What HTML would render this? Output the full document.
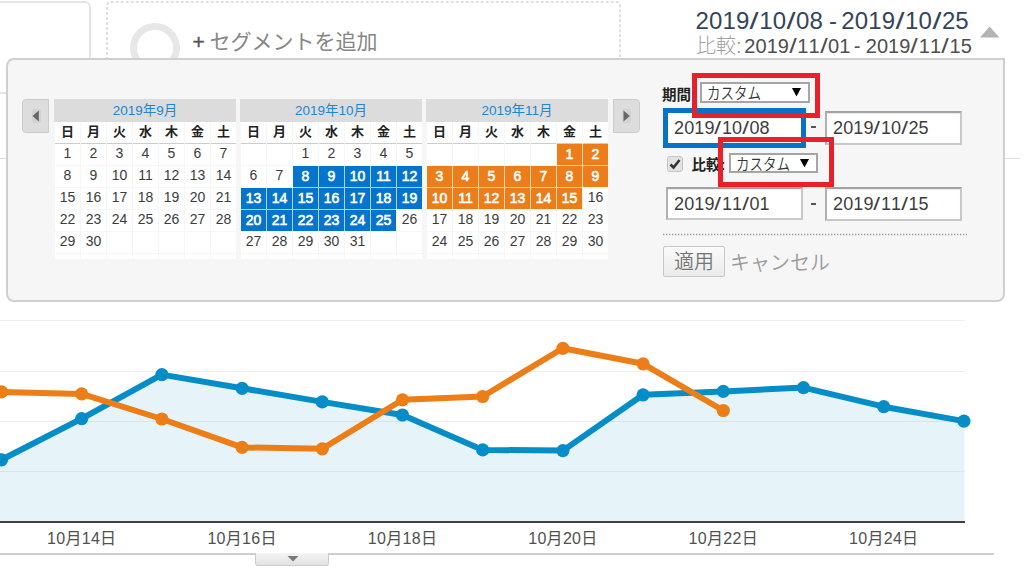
<!DOCTYPE html>
<html lang="ja"><head><meta charset="utf-8"><title>GA</title>
<style>
*{margin:0;padding:0;box-sizing:border-box}
html,body{width:1024px;height:567px;overflow:hidden;background:#fff}
body{position:relative;font-family:'Liberation Sans', 'Noto Sans CJK JP', sans-serif;color:#333}
.abs{position:absolute;white-space:nowrap}
.g{display:inline-block;text-align:center}
.cal{position:absolute;top:99px;width:182px;height:160px}
.mh{position:absolute;left:0;top:0;width:182px;height:23px;background:#dcdcdc;color:#2186d4;font-size:13.5px;line-height:23px;text-align:center}
.c{position:absolute;width:25px;text-align:center;font-size:14px;color:#3c3c3c;background:#fff}
.dn{font-family:'Noto Sans CJK JP',sans-serif;font-weight:700;font-size:13px;color:#222}
.b{background:#0574cc;color:#fff;font-weight:400;-webkit-text-stroke:0.6px #fff;padding-top:1px}
.o{background:#ec7d1b;color:#fff;font-weight:400;-webkit-text-stroke:0.6px #fff;padding-top:1px}
.inp{position:absolute;background:#fff;border:2px solid #c8c8c8;border-top-color:#a2a2a2;border-left-color:#b0b0b0;box-shadow:inset 0 1px 1px rgba(0,0,0,0.08)}
.sel{position:absolute;background:#fff;border:2px solid #a5a5a5}
.red{position:absolute;border:5px solid #e8202a}
.jp{font-family:'Noto Sans CJK JP', sans-serif}
</style></head><body>
<div class="abs" style="left:-20px;top:1px;width:111px;height:93px;border:2px solid #e4e4e4;border-radius:6px"></div><svg class="abs" style="left:0;top:0" width="640" height="70"><path d="M107,70 V6 Q107,2 111,2 H616 Q620,2 620,6 V70" fill="none" stroke="#e0e0e0" stroke-width="2" stroke-dasharray="3 2"/></svg><div class="abs" style="left:130px;top:22.5px;width:50px;height:50px;border:7px solid #e7e7e7;border-radius:50%"></div><div class="abs" style="left:192.5px;top:29px;font-size:21px;line-height:26px;color:#555;font-weight:400;-webkit-text-stroke:0.4px #555">+</div><div class="abs jp" style="left:209.5px;top:26px;font-size:21px;line-height:28px;color:#868686">セグメントを追加</div><div class="abs" style="left:695.5px;top:5.5px;font-size:24px;line-height:30px;color:#34455a"><span class="g" style="width:13.48px">2</span><span class="g" style="width:13.48px">0</span><span class="g" style="width:13.48px">1</span><span class="g" style="width:13.48px">9</span><span class="g" style="width:9.86px;transform:scaleX(1.35)">/</span><span class="g" style="width:13.48px">1</span><span class="g" style="width:13.48px">0</span><span class="g" style="width:9.86px;transform:scaleX(1.35)">/</span><span class="g" style="width:13.48px">0</span><span class="g" style="width:13.48px">8</span><span class="g" style="width:5.94px;white-space:pre"> </span><span class="g" style="width:6.48px">-</span><span class="g" style="width:5.94px;white-space:pre"> </span><span class="g" style="width:13.48px">2</span><span class="g" style="width:13.48px">0</span><span class="g" style="width:13.48px">1</span><span class="g" style="width:13.48px">9</span><span class="g" style="width:9.86px;transform:scaleX(1.35)">/</span><span class="g" style="width:13.48px">1</span><span class="g" style="width:13.48px">0</span><span class="g" style="width:9.86px;transform:scaleX(1.35)">/</span><span class="g" style="width:13.48px">2</span><span class="g" style="width:13.48px">5</span></div><div class="abs" style="left:696px;top:33px;font-size:20px;line-height:24px;color:#4e4e4e"><span style="color:#a0a0a0"><span class="jp" style="font-weight:300">比較</span><span class="g" style="width:4.72px">:</span></span><span style="margin-left:-1.5px"><span class="g" style="width:4.95px;white-space:pre"> </span><span class="g" style="width:11.23px">2</span><span class="g" style="width:11.23px">0</span><span class="g" style="width:11.23px">1</span><span class="g" style="width:11.23px">9</span><span class="g" style="width:8.22px;transform:scaleX(1.35)">/</span><span class="g" style="width:11.23px">1</span><span class="g" style="width:11.23px">1</span><span class="g" style="width:8.22px;transform:scaleX(1.35)">/</span><span class="g" style="width:11.23px">0</span><span class="g" style="width:11.23px">1</span><span class="g" style="width:4.95px;white-space:pre"> </span><span class="g" style="width:5.4px;margin-left:-1.6px;margin-right:1.6px">-</span><span class="g" style="width:4.95px;white-space:pre"> </span><span class="g" style="width:11.23px">2</span><span class="g" style="width:11.23px">0</span><span class="g" style="width:11.23px">1</span><span class="g" style="width:11.23px">9</span><span class="g" style="width:8.22px;transform:scaleX(1.35)">/</span><span class="g" style="width:11.23px">1</span><span class="g" style="width:11.23px">1</span><span class="g" style="width:8.22px;transform:scaleX(1.35)">/</span><span class="g" style="width:11.23px">1</span><span class="g" style="width:11.23px">5</span></span></div><svg class="abs" style="left:975px;top:20px" width="30" height="20"><polygon points="5,17.5 14.6,6.5 24.4,17.5" fill="#b4b4b4"/></svg><div class="abs" style="left:0;top:158px;width:1020px;height:1px;background:#dedede"></div><div class="abs" style="left:6px;top:58px;width:999px;height:244px;background:#f6f6f6;border:2px solid #cfcfcf;border-radius:8px 0 8px 8px"></div><div class="abs" style="left:22px;top:99px;width:27px;height:34px;background:#dddddd;border:1px solid #cbcbcb;border-radius:4px 0 0 4px"></div><div class="abs" style="left:31.5px;top:108.5px;width:9px;height:14px;background:#d2d2d2;border-radius:3px"></div><svg class="abs" style="left:0;top:0;overflow:visible" width="1" height="1"><polygon points="38.8,110.5 32.5,116 38.8,121.5" fill="#666"/></svg><div class="abs" style="left:613px;top:99px;width:27px;height:34px;background:#dddddd;border:1px solid #cbcbcb;border-radius:0 4px 4px 0"></div><div class="abs" style="left:621.5px;top:108.5px;width:9px;height:14px;background:#d2d2d2;border-radius:3px"></div><svg class="abs" style="left:0;top:0;overflow:visible" width="1" height="1"><polygon points="623.5,110.5 629.8,116 623.5,121.5" fill="#666"/></svg><div class="cal" style="left:54px"><div class="mh">2019年9月</div><div class="c dn" style="left:1px;top:23px;height:21px;line-height:18px">日</div><div class="abs" style="left:1px;top:44px;width:25px;height:1px;background:#cdcdcd"></div><div class="c dn" style="left:27px;top:23px;height:21px;line-height:18px">月</div><div class="abs" style="left:27px;top:44px;width:25px;height:1px;background:#cdcdcd"></div><div class="c dn" style="left:53px;top:23px;height:21px;line-height:18px">火</div><div class="abs" style="left:53px;top:44px;width:25px;height:1px;background:#cdcdcd"></div><div class="c dn" style="left:79px;top:23px;height:21px;line-height:18px">水</div><div class="abs" style="left:79px;top:44px;width:25px;height:1px;background:#cdcdcd"></div><div class="c dn" style="left:105px;top:23px;height:21px;line-height:18px">木</div><div class="abs" style="left:105px;top:44px;width:25px;height:1px;background:#cdcdcd"></div><div class="c dn" style="left:131px;top:23px;height:21px;line-height:18px">金</div><div class="abs" style="left:131px;top:44px;width:25px;height:1px;background:#cdcdcd"></div><div class="c dn" style="left:157px;top:23px;height:21px;line-height:18px">土</div><div class="abs" style="left:157px;top:44px;width:25px;height:1px;background:#cdcdcd"></div><div class="c" style="left:1px;top:45px;height:21px;line-height:19px">1</div><div class="c" style="left:27px;top:45px;height:21px;line-height:19px">2</div><div class="c" style="left:53px;top:45px;height:21px;line-height:19px">3</div><div class="c" style="left:79px;top:45px;height:21px;line-height:19px">4</div><div class="c" style="left:105px;top:45px;height:21px;line-height:19px">5</div><div class="c" style="left:131px;top:45px;height:21px;line-height:19px">6</div><div class="c" style="left:157px;top:45px;height:21px;line-height:19px">7</div><div class="c" style="left:1px;top:67px;height:21px;line-height:19px">8</div><div class="c" style="left:27px;top:67px;height:21px;line-height:19px">9</div><div class="c" style="left:53px;top:67px;height:21px;line-height:19px">10</div><div class="c" style="left:79px;top:67px;height:21px;line-height:19px">11</div><div class="c" style="left:105px;top:67px;height:21px;line-height:19px">12</div><div class="c" style="left:131px;top:67px;height:21px;line-height:19px">13</div><div class="c" style="left:157px;top:67px;height:21px;line-height:19px">14</div><div class="c" style="left:1px;top:89px;height:21px;line-height:19px">15</div><div class="c" style="left:27px;top:89px;height:21px;line-height:19px">16</div><div class="c" style="left:53px;top:89px;height:21px;line-height:19px">17</div><div class="c" style="left:79px;top:89px;height:21px;line-height:19px">18</div><div class="c" style="left:105px;top:89px;height:21px;line-height:19px">19</div><div class="c" style="left:131px;top:89px;height:21px;line-height:19px">20</div><div class="c" style="left:157px;top:89px;height:21px;line-height:19px">21</div><div class="c" style="left:1px;top:111px;height:21px;line-height:19px">22</div><div class="c" style="left:27px;top:111px;height:21px;line-height:19px">23</div><div class="c" style="left:53px;top:111px;height:21px;line-height:19px">24</div><div class="c" style="left:79px;top:111px;height:21px;line-height:19px">25</div><div class="c" style="left:105px;top:111px;height:21px;line-height:19px">26</div><div class="c" style="left:131px;top:111px;height:21px;line-height:19px">27</div><div class="c" style="left:157px;top:111px;height:21px;line-height:19px">28</div><div class="c" style="left:1px;top:133px;height:21px;line-height:19px">29</div><div class="c" style="left:27px;top:133px;height:21px;line-height:19px">30</div><div class="c" style="left:53px;top:133px;height:21px;line-height:19px"></div><div class="c" style="left:79px;top:133px;height:21px;line-height:19px"></div><div class="c" style="left:105px;top:133px;height:21px;line-height:19px"></div><div class="c" style="left:131px;top:133px;height:21px;line-height:19px"></div><div class="c" style="left:157px;top:133px;height:21px;line-height:19px"></div><div class="c" style="left:1px;top:155px;height:5px;line-height:3px"></div><div class="c" style="left:27px;top:155px;height:5px;line-height:3px"></div><div class="c" style="left:53px;top:155px;height:5px;line-height:3px"></div><div class="c" style="left:79px;top:155px;height:5px;line-height:3px"></div><div class="c" style="left:105px;top:155px;height:5px;line-height:3px"></div><div class="c" style="left:131px;top:155px;height:5px;line-height:3px"></div><div class="c" style="left:157px;top:155px;height:5px;line-height:3px"></div></div><div class="cal" style="left:240px"><div class="mh">2019年10月</div><div class="c dn" style="left:1px;top:23px;height:21px;line-height:18px">日</div><div class="abs" style="left:1px;top:44px;width:25px;height:1px;background:#cdcdcd"></div><div class="c dn" style="left:27px;top:23px;height:21px;line-height:18px">月</div><div class="abs" style="left:27px;top:44px;width:25px;height:1px;background:#cdcdcd"></div><div class="c dn" style="left:53px;top:23px;height:21px;line-height:18px">火</div><div class="abs" style="left:53px;top:44px;width:25px;height:1px;background:#cdcdcd"></div><div class="c dn" style="left:79px;top:23px;height:21px;line-height:18px">水</div><div class="abs" style="left:79px;top:44px;width:25px;height:1px;background:#cdcdcd"></div><div class="c dn" style="left:105px;top:23px;height:21px;line-height:18px">木</div><div class="abs" style="left:105px;top:44px;width:25px;height:1px;background:#cdcdcd"></div><div class="c dn" style="left:131px;top:23px;height:21px;line-height:18px">金</div><div class="abs" style="left:131px;top:44px;width:25px;height:1px;background:#cdcdcd"></div><div class="c dn" style="left:157px;top:23px;height:21px;line-height:18px">土</div><div class="abs" style="left:157px;top:44px;width:25px;height:1px;background:#cdcdcd"></div><div class="abs" style="left:78px;top:67px;width:1px;height:21px;background:#b0d0f0"></div><div class="abs" style="left:53px;top:88px;width:25px;height:1px;background:#b0d0f0"></div><div class="abs" style="left:78px;top:88px;width:1px;height:1px;background:#b0d0f0"></div><div class="abs" style="left:104px;top:67px;width:1px;height:21px;background:#b0d0f0"></div><div class="abs" style="left:79px;top:88px;width:25px;height:1px;background:#b0d0f0"></div><div class="abs" style="left:104px;top:88px;width:1px;height:1px;background:#b0d0f0"></div><div class="abs" style="left:130px;top:67px;width:1px;height:21px;background:#b0d0f0"></div><div class="abs" style="left:105px;top:88px;width:25px;height:1px;background:#b0d0f0"></div><div class="abs" style="left:130px;top:88px;width:1px;height:1px;background:#b0d0f0"></div><div class="abs" style="left:156px;top:67px;width:1px;height:21px;background:#b0d0f0"></div><div class="abs" style="left:131px;top:88px;width:25px;height:1px;background:#b0d0f0"></div><div class="abs" style="left:156px;top:88px;width:1px;height:1px;background:#b0d0f0"></div><div class="abs" style="left:157px;top:88px;width:25px;height:1px;background:#b0d0f0"></div><div class="abs" style="left:26px;top:89px;width:1px;height:21px;background:#b0d0f0"></div><div class="abs" style="left:1px;top:110px;width:25px;height:1px;background:#b0d0f0"></div><div class="abs" style="left:26px;top:110px;width:1px;height:1px;background:#b0d0f0"></div><div class="abs" style="left:52px;top:89px;width:1px;height:21px;background:#b0d0f0"></div><div class="abs" style="left:27px;top:110px;width:25px;height:1px;background:#b0d0f0"></div><div class="abs" style="left:52px;top:110px;width:1px;height:1px;background:#b0d0f0"></div><div class="abs" style="left:78px;top:89px;width:1px;height:21px;background:#b0d0f0"></div><div class="abs" style="left:53px;top:110px;width:25px;height:1px;background:#b0d0f0"></div><div class="abs" style="left:78px;top:110px;width:1px;height:1px;background:#b0d0f0"></div><div class="abs" style="left:104px;top:89px;width:1px;height:21px;background:#b0d0f0"></div><div class="abs" style="left:79px;top:110px;width:25px;height:1px;background:#b0d0f0"></div><div class="abs" style="left:104px;top:110px;width:1px;height:1px;background:#b0d0f0"></div><div class="abs" style="left:130px;top:89px;width:1px;height:21px;background:#b0d0f0"></div><div class="abs" style="left:105px;top:110px;width:25px;height:1px;background:#b0d0f0"></div><div class="abs" style="left:130px;top:110px;width:1px;height:1px;background:#b0d0f0"></div><div class="abs" style="left:156px;top:89px;width:1px;height:21px;background:#b0d0f0"></div><div class="abs" style="left:131px;top:110px;width:25px;height:1px;background:#b0d0f0"></div><div class="abs" style="left:26px;top:111px;width:1px;height:21px;background:#b0d0f0"></div><div class="abs" style="left:52px;top:111px;width:1px;height:21px;background:#b0d0f0"></div><div class="abs" style="left:78px;top:111px;width:1px;height:21px;background:#b0d0f0"></div><div class="abs" style="left:104px;top:111px;width:1px;height:21px;background:#b0d0f0"></div><div class="abs" style="left:130px;top:111px;width:1px;height:21px;background:#b0d0f0"></div><div class="c" style="left:1px;top:45px;height:21px;line-height:19px"></div><div class="c" style="left:27px;top:45px;height:21px;line-height:19px"></div><div class="c" style="left:53px;top:45px;height:21px;line-height:19px">1</div><div class="c" style="left:79px;top:45px;height:21px;line-height:19px">2</div><div class="c" style="left:105px;top:45px;height:21px;line-height:19px">3</div><div class="c" style="left:131px;top:45px;height:21px;line-height:19px">4</div><div class="c" style="left:157px;top:45px;height:21px;line-height:19px">5</div><div class="c" style="left:1px;top:67px;height:21px;line-height:19px">6</div><div class="c" style="left:27px;top:67px;height:21px;line-height:19px">7</div><div class="c b" style="left:53px;top:67px;height:21px;line-height:19px">8</div><div class="c b" style="left:79px;top:67px;height:21px;line-height:19px">9</div><div class="c b" style="left:105px;top:67px;height:21px;line-height:19px">10</div><div class="c b" style="left:131px;top:67px;height:21px;line-height:19px">11</div><div class="c b" style="left:157px;top:67px;height:21px;line-height:19px">12</div><div class="c b" style="left:1px;top:89px;height:21px;line-height:19px">13</div><div class="c b" style="left:27px;top:89px;height:21px;line-height:19px">14</div><div class="c b" style="left:53px;top:89px;height:21px;line-height:19px">15</div><div class="c b" style="left:79px;top:89px;height:21px;line-height:19px">16</div><div class="c b" style="left:105px;top:89px;height:21px;line-height:19px">17</div><div class="c b" style="left:131px;top:89px;height:21px;line-height:19px">18</div><div class="c b" style="left:157px;top:89px;height:21px;line-height:19px">19</div><div class="c b" style="left:1px;top:111px;height:21px;line-height:19px">20</div><div class="c b" style="left:27px;top:111px;height:21px;line-height:19px">21</div><div class="c b" style="left:53px;top:111px;height:21px;line-height:19px">22</div><div class="c b" style="left:79px;top:111px;height:21px;line-height:19px">23</div><div class="c b" style="left:105px;top:111px;height:21px;line-height:19px">24</div><div class="c b" style="left:131px;top:111px;height:21px;line-height:19px">25</div><div class="c" style="left:157px;top:111px;height:21px;line-height:19px">26</div><div class="c" style="left:1px;top:133px;height:21px;line-height:19px">27</div><div class="c" style="left:27px;top:133px;height:21px;line-height:19px">28</div><div class="c" style="left:53px;top:133px;height:21px;line-height:19px">29</div><div class="c" style="left:79px;top:133px;height:21px;line-height:19px">30</div><div class="c" style="left:105px;top:133px;height:21px;line-height:19px">31</div><div class="c" style="left:131px;top:133px;height:21px;line-height:19px"></div><div class="c" style="left:157px;top:133px;height:21px;line-height:19px"></div><div class="c" style="left:1px;top:155px;height:5px;line-height:3px"></div><div class="c" style="left:27px;top:155px;height:5px;line-height:3px"></div><div class="c" style="left:53px;top:155px;height:5px;line-height:3px"></div><div class="c" style="left:79px;top:155px;height:5px;line-height:3px"></div><div class="c" style="left:105px;top:155px;height:5px;line-height:3px"></div><div class="c" style="left:131px;top:155px;height:5px;line-height:3px"></div><div class="c" style="left:157px;top:155px;height:5px;line-height:3px"></div></div><div class="cal" style="left:426px"><div class="mh">2019年11月</div><div class="c dn" style="left:1px;top:23px;height:21px;line-height:18px">日</div><div class="abs" style="left:1px;top:44px;width:25px;height:1px;background:#cdcdcd"></div><div class="c dn" style="left:27px;top:23px;height:21px;line-height:18px">月</div><div class="abs" style="left:27px;top:44px;width:25px;height:1px;background:#cdcdcd"></div><div class="c dn" style="left:53px;top:23px;height:21px;line-height:18px">火</div><div class="abs" style="left:53px;top:44px;width:25px;height:1px;background:#cdcdcd"></div><div class="c dn" style="left:79px;top:23px;height:21px;line-height:18px">水</div><div class="abs" style="left:79px;top:44px;width:25px;height:1px;background:#cdcdcd"></div><div class="c dn" style="left:105px;top:23px;height:21px;line-height:18px">木</div><div class="abs" style="left:105px;top:44px;width:25px;height:1px;background:#cdcdcd"></div><div class="c dn" style="left:131px;top:23px;height:21px;line-height:18px">金</div><div class="abs" style="left:131px;top:44px;width:25px;height:1px;background:#cdcdcd"></div><div class="c dn" style="left:157px;top:23px;height:21px;line-height:18px">土</div><div class="abs" style="left:157px;top:44px;width:25px;height:1px;background:#cdcdcd"></div><div class="abs" style="left:156px;top:45px;width:1px;height:21px;background:#f8d2ae"></div><div class="abs" style="left:131px;top:66px;width:25px;height:1px;background:#f8d2ae"></div><div class="abs" style="left:156px;top:66px;width:1px;height:1px;background:#f8d2ae"></div><div class="abs" style="left:157px;top:66px;width:25px;height:1px;background:#f8d2ae"></div><div class="abs" style="left:26px;top:67px;width:1px;height:21px;background:#f8d2ae"></div><div class="abs" style="left:1px;top:88px;width:25px;height:1px;background:#f8d2ae"></div><div class="abs" style="left:26px;top:88px;width:1px;height:1px;background:#f8d2ae"></div><div class="abs" style="left:52px;top:67px;width:1px;height:21px;background:#f8d2ae"></div><div class="abs" style="left:27px;top:88px;width:25px;height:1px;background:#f8d2ae"></div><div class="abs" style="left:52px;top:88px;width:1px;height:1px;background:#f8d2ae"></div><div class="abs" style="left:78px;top:67px;width:1px;height:21px;background:#f8d2ae"></div><div class="abs" style="left:53px;top:88px;width:25px;height:1px;background:#f8d2ae"></div><div class="abs" style="left:78px;top:88px;width:1px;height:1px;background:#f8d2ae"></div><div class="abs" style="left:104px;top:67px;width:1px;height:21px;background:#f8d2ae"></div><div class="abs" style="left:79px;top:88px;width:25px;height:1px;background:#f8d2ae"></div><div class="abs" style="left:104px;top:88px;width:1px;height:1px;background:#f8d2ae"></div><div class="abs" style="left:130px;top:67px;width:1px;height:21px;background:#f8d2ae"></div><div class="abs" style="left:105px;top:88px;width:25px;height:1px;background:#f8d2ae"></div><div class="abs" style="left:130px;top:88px;width:1px;height:1px;background:#f8d2ae"></div><div class="abs" style="left:156px;top:67px;width:1px;height:21px;background:#f8d2ae"></div><div class="abs" style="left:131px;top:88px;width:25px;height:1px;background:#f8d2ae"></div><div class="abs" style="left:26px;top:89px;width:1px;height:21px;background:#f8d2ae"></div><div class="abs" style="left:52px;top:89px;width:1px;height:21px;background:#f8d2ae"></div><div class="abs" style="left:78px;top:89px;width:1px;height:21px;background:#f8d2ae"></div><div class="abs" style="left:104px;top:89px;width:1px;height:21px;background:#f8d2ae"></div><div class="abs" style="left:130px;top:89px;width:1px;height:21px;background:#f8d2ae"></div><div class="c" style="left:1px;top:45px;height:21px;line-height:19px"></div><div class="c" style="left:27px;top:45px;height:21px;line-height:19px"></div><div class="c" style="left:53px;top:45px;height:21px;line-height:19px"></div><div class="c" style="left:79px;top:45px;height:21px;line-height:19px"></div><div class="c" style="left:105px;top:45px;height:21px;line-height:19px"></div><div class="c o" style="left:131px;top:45px;height:21px;line-height:19px">1</div><div class="c o" style="left:157px;top:45px;height:21px;line-height:19px">2</div><div class="c o" style="left:1px;top:67px;height:21px;line-height:19px">3</div><div class="c o" style="left:27px;top:67px;height:21px;line-height:19px">4</div><div class="c o" style="left:53px;top:67px;height:21px;line-height:19px">5</div><div class="c o" style="left:79px;top:67px;height:21px;line-height:19px">6</div><div class="c o" style="left:105px;top:67px;height:21px;line-height:19px">7</div><div class="c o" style="left:131px;top:67px;height:21px;line-height:19px">8</div><div class="c o" style="left:157px;top:67px;height:21px;line-height:19px">9</div><div class="c o" style="left:1px;top:89px;height:21px;line-height:19px">10</div><div class="c o" style="left:27px;top:89px;height:21px;line-height:19px">11</div><div class="c o" style="left:53px;top:89px;height:21px;line-height:19px">12</div><div class="c o" style="left:79px;top:89px;height:21px;line-height:19px">13</div><div class="c o" style="left:105px;top:89px;height:21px;line-height:19px">14</div><div class="c o" style="left:131px;top:89px;height:21px;line-height:19px">15</div><div class="c" style="left:157px;top:89px;height:21px;line-height:19px">16</div><div class="c" style="left:1px;top:111px;height:21px;line-height:19px">17</div><div class="c" style="left:27px;top:111px;height:21px;line-height:19px">18</div><div class="c" style="left:53px;top:111px;height:21px;line-height:19px">19</div><div class="c" style="left:79px;top:111px;height:21px;line-height:19px">20</div><div class="c" style="left:105px;top:111px;height:21px;line-height:19px">21</div><div class="c" style="left:131px;top:111px;height:21px;line-height:19px">22</div><div class="c" style="left:157px;top:111px;height:21px;line-height:19px">23</div><div class="c" style="left:1px;top:133px;height:21px;line-height:19px">24</div><div class="c" style="left:27px;top:133px;height:21px;line-height:19px">25</div><div class="c" style="left:53px;top:133px;height:21px;line-height:19px">26</div><div class="c" style="left:79px;top:133px;height:21px;line-height:19px">27</div><div class="c" style="left:105px;top:133px;height:21px;line-height:19px">28</div><div class="c" style="left:131px;top:133px;height:21px;line-height:19px">29</div><div class="c" style="left:157px;top:133px;height:21px;line-height:19px">30</div><div class="c" style="left:1px;top:155px;height:5px;line-height:3px"></div><div class="c" style="left:27px;top:155px;height:5px;line-height:3px"></div><div class="c" style="left:53px;top:155px;height:5px;line-height:3px"></div><div class="c" style="left:79px;top:155px;height:5px;line-height:3px"></div><div class="c" style="left:105px;top:155px;height:5px;line-height:3px"></div><div class="c" style="left:131px;top:155px;height:5px;line-height:3px"></div><div class="c" style="left:157px;top:155px;height:5px;line-height:3px"></div></div><div class="abs jp" style="left:662px;top:82.5px;font-weight:700;font-size:14.5px;line-height:22px;color:#222">期間</div><div class="sel" style="left:700px;top:82px;width:110px;height:21px"></div><div class="abs jp" style="left:707px;top:83px;font-size:13.5px;line-height:20px;color:#333;font-weight:350;transform:scaleY(1.2);transform-origin:0 16px">カスタム</div><svg class="abs" style="left:791.5px;top:88px" width="9" height="8.5"><polygon points="0,0 9,0 4.5,8.5" fill="#000"/></svg><div class="abs" style="left:663px;top:108px;width:143px;height:40px;border:5px solid #0672c8;background:#fff"></div><div class="abs" style="left:674px;top:117px;font-size:18px;line-height:22px;color:#3d3d3d"><span class="g" style="width:10.11px">2</span><span class="g" style="width:10.11px">0</span><span class="g" style="width:10.11px">1</span><span class="g" style="width:10.11px">9</span><span class="g" style="width:7.40px;transform:scaleX(1.35)">/</span><span class="g" style="width:10.11px">1</span><span class="g" style="width:10.11px">0</span><span class="g" style="width:7.40px;transform:scaleX(1.35)">/</span><span class="g" style="width:10.11px">0</span><span class="g" style="width:10.11px">8</span></div><div class="abs" style="left:811px;top:126px;width:4.5px;height:1.5px;background:#555"></div><div class="inp" style="left:824.5px;top:111px;width:137.5px;height:33.5px"></div><div class="abs" style="left:833px;top:117px;font-size:18px;line-height:22px;color:#3d3d3d"><span class="g" style="width:10.11px">2</span><span class="g" style="width:10.11px">0</span><span class="g" style="width:10.11px">1</span><span class="g" style="width:10.11px">9</span><span class="g" style="width:7.40px;transform:scaleX(1.35)">/</span><span class="g" style="width:10.11px">1</span><span class="g" style="width:10.11px">0</span><span class="g" style="width:7.40px;transform:scaleX(1.35)">/</span><span class="g" style="width:10.11px">2</span><span class="g" style="width:10.11px">5</span></div><div class="abs" style="left:667px;top:156px;width:16px;height:16px;background:#e3e3e3;border:1px solid #c4c4c4;border-radius:3px"></div><svg class="abs" style="left:667px;top:156px" width="16" height="16"><polyline points="3.5,8.5 6.5,11.5 12.5,4" fill="none" stroke="#333" stroke-width="2.6"/></svg><div class="abs jp" style="left:691.5px;top:152.5px;font-weight:700;font-size:14.5px;line-height:22px;color:#222">比較<span style="font-family:Liberation Sans">:</span></div><div class="sel" style="left:729px;top:153px;width:89px;height:20px"></div><div class="abs jp" style="left:736px;top:153.5px;font-size:13.5px;line-height:20px;color:#333;font-weight:350;transform:scaleY(1.2);transform-origin:0 16px">カスタム</div><svg class="abs" style="left:800px;top:158.5px" width="9" height="8.5"><polygon points="0,0 9,0 4.5,8.5" fill="#000"/></svg><div class="inp" style="left:666px;top:187px;width:137px;height:33px"></div><div class="abs" style="left:674px;top:193px;font-size:18px;line-height:22px;color:#3d3d3d"><span class="g" style="width:10.11px">2</span><span class="g" style="width:10.11px">0</span><span class="g" style="width:10.11px">1</span><span class="g" style="width:10.11px">9</span><span class="g" style="width:7.40px;transform:scaleX(1.35)">/</span><span class="g" style="width:10.11px">1</span><span class="g" style="width:10.11px">1</span><span class="g" style="width:7.40px;transform:scaleX(1.35)">/</span><span class="g" style="width:10.11px">0</span><span class="g" style="width:10.11px">1</span></div><div class="abs" style="left:811px;top:203px;width:4.5px;height:1.5px;background:#555"></div><div class="inp" style="left:824.5px;top:187px;width:137.5px;height:33.5px"></div><div class="abs" style="left:833px;top:193px;font-size:18px;line-height:22px;color:#3d3d3d"><span class="g" style="width:10.11px">2</span><span class="g" style="width:10.11px">0</span><span class="g" style="width:10.11px">1</span><span class="g" style="width:10.11px">9</span><span class="g" style="width:7.40px;transform:scaleX(1.35)">/</span><span class="g" style="width:10.11px">1</span><span class="g" style="width:10.11px">1</span><span class="g" style="width:7.40px;transform:scaleX(1.35)">/</span><span class="g" style="width:10.11px">1</span><span class="g" style="width:10.11px">5</span></div><div class="red" style="left:692px;top:73px;width:128px;height:45px"></div><div class="red" style="left:718px;top:137px;width:116px;height:50px"></div><svg class="abs" style="left:662px;top:233px" width="306" height="3"><line x1="1" y1="1.5" x2="305" y2="1.5" stroke="#9a9a9a" stroke-width="1.3" stroke-dasharray="1.3 1.7"/></svg><div class="abs" style="left:663px;top:246px;width:62px;height:31px;border:1px solid #c8c8c8;border-radius:2px;background:linear-gradient(#fafafa,#ebebeb)"></div><div class="abs jp" style="left:674px;top:246.5px;font-size:20px;line-height:28px;color:#757575;font-weight:350">適用</div><div class="abs jp" style="left:730px;top:247.5px;font-size:20px;line-height:28px;color:#9a9a9a;font-weight:350">キャンセル</div><svg class="abs" style="left:0;top:0" width="1024" height="567"><line x1="0" y1="320.5" x2="965" y2="320.5" stroke="#efefef" stroke-width="1"/><line x1="0" y1="371.5" x2="965" y2="371.5" stroke="#efefef" stroke-width="1"/><line x1="0" y1="421.5" x2="965" y2="421.5" stroke="#efefef" stroke-width="1"/><line x1="0" y1="471.5" x2="965" y2="471.5" stroke="#efefef" stroke-width="1"/><polygon points="-80,470 1.5,459.8 81.7,418.6 161.9,374.6 242.1,388.3 322.3,401.9 402.5,415.0 482.7,449.9 562.9,450.6 643.1,394.8 723.3,391.4 803.5,387.6 883.7,406.7 963.9,421.1 964.5,421.1 964.5,521 -80,521" fill="#058dc7" fill-opacity="0.1"/><line x1="0" y1="522" x2="965" y2="522" stroke="#404040" stroke-width="2"/><polyline points="-78,500 1.5,459.8 81.7,418.6 161.9,374.6 242.1,388.3 322.3,401.9 402.5,415.0 482.7,449.9 562.9,450.6 643.1,394.8 723.3,391.4 803.5,387.6 883.7,406.7 963.9,421.1" fill="none" stroke="#058dc7" stroke-width="6" stroke-linejoin="round"/><polyline points="-78,390 1.5,391.9 81.7,393.9 161.9,419.0 242.1,447.4 322.3,448.8 402.5,399.8 482.7,396.5 562.9,348.3 643.1,363.8 723.3,410.5" fill="none" stroke="#ed7e17" stroke-width="6" stroke-linejoin="round"/><circle cx="1.5" cy="459.8" r="6.6" fill="#058dc7"/><circle cx="81.7" cy="418.6" r="6.6" fill="#058dc7"/><circle cx="161.9" cy="374.6" r="6.6" fill="#058dc7"/><circle cx="242.1" cy="388.3" r="6.6" fill="#058dc7"/><circle cx="322.3" cy="401.9" r="6.6" fill="#058dc7"/><circle cx="402.5" cy="415.0" r="6.6" fill="#058dc7"/><circle cx="482.7" cy="449.9" r="6.6" fill="#058dc7"/><circle cx="562.9" cy="450.6" r="6.6" fill="#058dc7"/><circle cx="643.1" cy="394.8" r="6.6" fill="#058dc7"/><circle cx="723.3" cy="391.4" r="6.6" fill="#058dc7"/><circle cx="803.5" cy="387.6" r="6.6" fill="#058dc7"/><circle cx="883.7" cy="406.7" r="6.6" fill="#058dc7"/><circle cx="963.9" cy="421.1" r="6.6" fill="#058dc7"/><circle cx="1.5" cy="391.9" r="6.6" fill="#ed7e17"/><circle cx="81.7" cy="393.9" r="6.6" fill="#ed7e17"/><circle cx="161.9" cy="419.0" r="6.6" fill="#ed7e17"/><circle cx="242.1" cy="447.4" r="6.6" fill="#ed7e17"/><circle cx="322.3" cy="448.8" r="6.6" fill="#ed7e17"/><circle cx="402.5" cy="399.8" r="6.6" fill="#ed7e17"/><circle cx="482.7" cy="396.5" r="6.6" fill="#ed7e17"/><circle cx="562.9" cy="348.3" r="6.6" fill="#ed7e17"/><circle cx="643.1" cy="363.8" r="6.6" fill="#ed7e17"/><circle cx="723.3" cy="410.5" r="6.6" fill="#ed7e17"/><line x1="0" y1="554" x2="994" y2="554" stroke="#cfcfcf" stroke-width="2"/></svg><div class="abs" style="left:31.7px;top:529px;width:100px;text-align:center;font-size:16px;line-height:20px;color:#505050;letter-spacing:0.3px">10月14日</div><div class="abs" style="left:192.1px;top:529px;width:100px;text-align:center;font-size:16px;line-height:20px;color:#505050;letter-spacing:0.3px">10月16日</div><div class="abs" style="left:352.5px;top:529px;width:100px;text-align:center;font-size:16px;line-height:20px;color:#505050;letter-spacing:0.3px">10月18日</div><div class="abs" style="left:512.9px;top:529px;width:100px;text-align:center;font-size:16px;line-height:20px;color:#505050;letter-spacing:0.3px">10月20日</div><div class="abs" style="left:673.3px;top:529px;width:100px;text-align:center;font-size:16px;line-height:20px;color:#505050;letter-spacing:0.3px">10月22日</div><div class="abs" style="left:833.7px;top:529px;width:100px;text-align:center;font-size:16px;line-height:20px;color:#505050;letter-spacing:0.3px">10月24日</div><div class="abs" style="left:255px;top:553px;width:74px;height:12.5px;background:linear-gradient(#f4f4f4,#e2e2e2);border:1px solid #cdcdcd;border-top:none;border-radius:0 0 3px 3px"></div><svg class="abs" style="left:286px;top:555px" width="14" height="8"><polygon points="1.5,1 12.5,1 7,6.5" fill="#7a7a7a"/></svg></body></html>
